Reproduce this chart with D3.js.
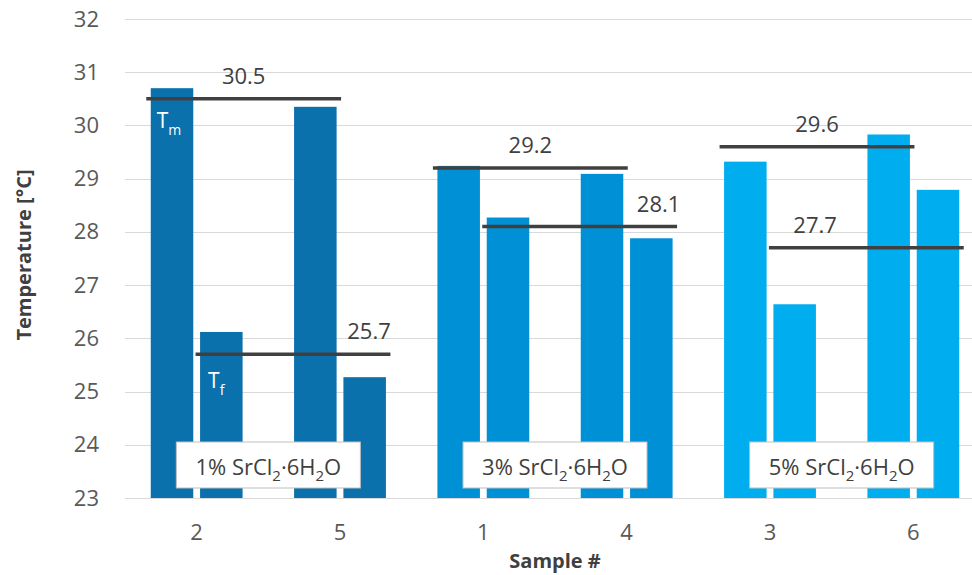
<!DOCTYPE html>
<html>
<head>
<meta charset="utf-8">
<script src="https://cdn.jsdelivr.net/npm/d3@7/dist/d3.min.js"></script>
<style>
  html, body { margin: 0; padding: 0; background: #fff; }
  svg { display: block; font-family: "Open Sans", "Noto Sans", sans-serif; }
</style>
</head>
<body>
<svg id="chart" width="972" height="575"></svg>
<script>
// Sample numbers along the x axis, in drawing order
const samples = ["2", "5", "1", "4", "3", "6"];
// Which concentration group each sample belongs to
const sampleGroup = [0, 0, 1, 1, 2, 2];
const groupNames = ["1%", "3%", "5%"];
// Melting (Tm) and freezing (Tf) temperatures per sample, °C
const tMelt   = [30.70, 30.35, 29.24, 29.09, 29.32, 29.83];
const tFreeze = [26.12, 25.27, 28.27, 27.88, 26.64, 28.79];
// Group averages
const avgMelt   = [30.5, 29.2, 29.6];
const avgFreeze = [25.7, 28.1, 27.7];
// Y axis ticks
const yTicks = [23, 24, 25, 26, 27, 28, 29, 30, 31, 32];

// Styling / layout
const groupColors = ["#0A71AC", "#0090D6", "#00AEEF"];
const textGray = "#595959";
const darkGray = "#404040";
const freezeLabelAt = [0.89, 0.905, 0.237]; // where along each Tf line its value sits

const svg = d3.select("#chart");

const y = d3.scaleLinear().domain([23, 32]).range([498, 19]);
const x = d3.scaleBand().domain(samples).range([125, 985]);
const inner = d3.scaleBand().domain(["Tm", "Tf"]).range([0, x.bandwidth()])
  .paddingInner(0.138).paddingOuter(0.522);

// Gridlines
svg.append("g").selectAll("line").data(yTicks).join("line")
  .attr("x1", 125).attr("x2", 985)
  .attr("y1", d => Math.round(y(d)) + 0.5).attr("y2", d => Math.round(y(d)) + 0.5)
  .attr("stroke", "#D9D9D9").attr("stroke-width", 1);

// Y axis labels
const yAxis = d3.axisLeft(y).tickValues(yTicks).tickSize(0).tickPadding(0);
svg.append("g").attr("transform", "translate(99,0)").call(yAxis)
  .call(g => g.select(".domain").remove())
  .call(g => g.selectAll("text").attr("fill", textGray)
    .style("font-size", "22px").style("font-family", "'Open Sans', sans-serif"));

// X axis labels
const xAxis = d3.axisBottom(x).tickSize(0).tickPadding(0);
svg.append("g").attr("transform", "translate(0,524)").call(xAxis)
  .call(g => g.select(".domain").remove())
  .call(g => g.selectAll("text").attr("fill", textGray)
    .style("font-size", "22px").style("font-family", "'Open Sans', sans-serif"));

// Bars
const rows = samples.map((s, i) => ({ s, g: sampleGroup[i], tm: tMelt[i], tf: tFreeze[i] }));
const barG = svg.append("g");
rows.forEach(r => {
  [["Tm", r.tm], ["Tf", r.tf]].forEach(([k, v]) => {
    barG.append("rect")
      .attr("x", x(r.s) + inner(k))
      .attr("width", inner.bandwidth())
      .attr("y", y(v))
      .attr("height", y(23) - y(v))
      .attr("fill", groupColors[r.g]);
  });
});

// Group average lines and values
const lineG = svg.append("g");
groupNames.forEach((gName, g) => {
  const s0 = samples[2 * g], s1 = samples[2 * g + 1];
  [["Tm", avgMelt[g], 0.5], ["Tf", avgFreeze[g], freezeLabelAt[g]]].forEach(([k, v, at]) => {
    const x1 = x(s0) + inner(k) - 4.5;
    const x2 = x(s1) + inner(k) + inner.bandwidth() + 4.5;
    lineG.append("line")
      .attr("x1", x1).attr("x2", x2)
      .attr("y1", y(v)).attr("y2", y(v))
      .attr("stroke", darkGray).attr("stroke-width", 3.5);
    lineG.append("text")
      .attr("x", x1 + (x2 - x1) * at)
      .attr("y", y(v) - 15)
      .attr("text-anchor", "middle")
      .attr("fill", darkGray)
      .style("font-size", "22px")
      .text(v.toFixed(1));
  });
});

// Tm / Tf annotations on the first pair of bars
function subLabel(px, py, main, sub) {
  const t = svg.append("text").attr("x", px).attr("y", py)
    .attr("fill", "#ffffff").style("font-size", "21px");
  t.append("tspan").text(main);
  t.append("tspan").attr("dy", 7).style("font-size", "14px").text(sub);
}
subLabel(x(samples[0]) + inner("Tm") + 6, y(avgMelt[0]) + 29, "T", "m");
subLabel(x(samples[0]) + inner("Tf") + 8, y(avgFreeze[0]) + 34, "T", "f");

// Concentration boxes
const boxW = 184, boxH = 46, boxTop = 442;
groupNames.forEach((gName, g) => {
  const cx = x(samples[2 * g + 1]);
  svg.append("rect")
    .attr("x", cx - boxW / 2).attr("y", boxTop)
    .attr("width", boxW).attr("height", boxH)
    .attr("fill", "#ffffff").attr("stroke", "#BFBFBF").attr("stroke-width", 1);
  const t = svg.append("text")
    .attr("x", cx).attr("y", boxTop + 33)
    .attr("text-anchor", "middle")
    .attr("fill", darkGray)
    .style("font-size", "22px");
  t.append("tspan").text(gName + " SrCl");
  t.append("tspan").attr("dy", 6).style("font-size", "15px").text("2");
  t.append("tspan").attr("dy", -6).text("·6H");
  t.append("tspan").attr("dy", 6).style("font-size", "15px").text("2");
  t.append("tspan").attr("dy", -6).text("O");
});

// Axis titles
svg.append("text")
  .attr("transform", "translate(31,255) rotate(-90)")
  .attr("text-anchor", "middle")
  .attr("fill", darkGray)
  .style("font-size", "20px").style("font-weight", "bold")
  .text("Temperature [°C]");

svg.append("text")
  .attr("x", 555).attr("y", 568)
  .attr("text-anchor", "middle")
  .attr("fill", darkGray)
  .style("font-size", "20px").style("font-weight", "bold")
  .text("Sample #");
</script>
</body>
</html>
